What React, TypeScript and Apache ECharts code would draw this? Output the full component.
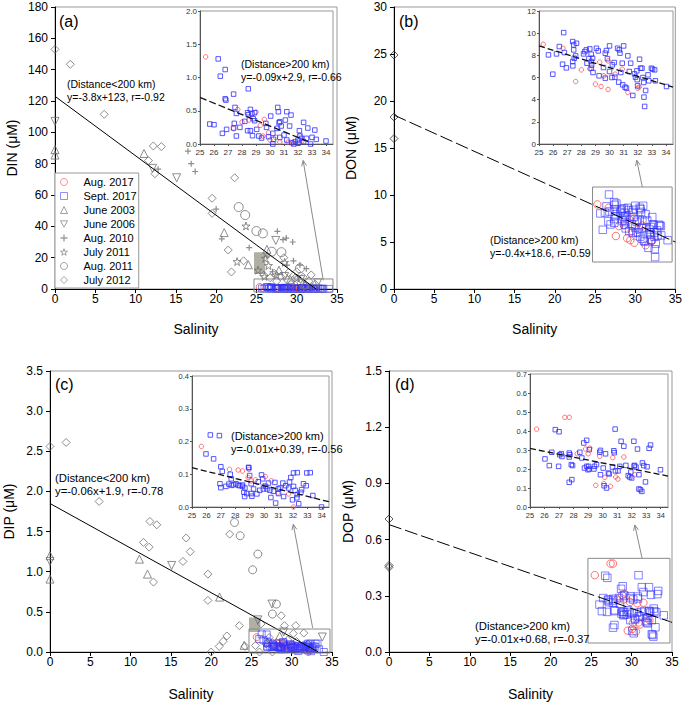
import React, { useEffect, useRef } from "react";
import * as echarts from "echarts";

const FONT = '"Liberation Sans", Arial, Helvetica, sans-serif';

// ---------- legend / series names ----------
const seriesNames = ["Aug. 2017", "Sept. 2017", "June 2003", "June 2006", "Aug. 2010", "July 2011", "Aug. 2011", "July 2012"];

// ---------- axis ticks ----------
const salinityTicks = { min: 0, max: 35, interval: 5 };
const insetSalinityTicks = { min: 25, max: 34.5, interval: 1 };

// ---------- (a) DIN ----------
const dinAug17 = [[25.4,1.31],[27.4,0.23],[27.7,0.52],[28.0,0.33],[28.5,0.36],[29.0,0.48],[29.3,0.28],[29.6,0.37],[29.5,0.12],[29.9,0.17],[30.0,0.06],[30.4,0.1],[30.7,0.03],[31.3,0.03],[31.6,0.02],[32.1,0.13],[32.3,0.05]];
const dinSep17 = [[26.3,1.28],[26.8,1.12],[26.45,1.02],[28.45,0.83],[27.4,0.75],[26.8,0.68],[26.85,0.66],[27.5,0.55],[27.6,0.46],[28.4,0.47],[28.45,0.44],[28.6,0.52],[28.7,0.46],[28.9,0.47],[28.8,0.38],[28.2,0.34],[27.85,0.25],[27.45,0.31],[27.4,0.24],[25.7,0.3],[26.0,0.29],[26.6,0.16],[26.9,0.22],[27.6,0.12],[28.4,0.2],[28.6,0.2],[28.75,0.125],[29.05,0.22],[29.7,0.31],[29.75,0.25],[30.05,0.42],[30.55,0.55],[30.6,0.485],[30.7,0.335],[30.65,0.32],[30.5,0.235],[31.2,0.485],[31.5,0.435],[31.1,0.36],[30.8,0.27],[31.4,0.27],[30.2,0.16],[29.9,0.11],[30.25,0.07],[30.2,0.0],[30.7,0.1],[31.0,0.135],[31.2,0.06],[31.55,0.02],[31.7,0.0],[32.0,0.06],[32.1,0.2],[32.4,0.325],[32.15,0.12],[32.25,0.085],[32.4,0.035],[32.6,0.085],[32.7,0.24],[33.2,0.21],[33.0,0.1],[33.3,0.07],[32.9,0.0],[34.0,0.045],[32.0,0.01],[31.8,0.035],[29.4,0.09],[28.9,0.35],[29.2,0.12]];
const dinJun03 = [[0,89],[0,85.5],[11.05,86.5],[21,36],[24,15.5],[26.3,25.3],[27.8,12],[29.2,6],[31,3]];
const dinJun06 = [[0,107],[12.1,77],[15.1,71],[27.4,31],[28.5,8],[30.5,6],[32.6,4]];
const dinAug10 = [[16.5,88],[16.9,80],[17.4,75],[12.8,76.5],[20,51],[20.7,32],[24.1,26.4],[27.6,36.8],[28.3,31.5],[28.7,32.5],[29.5,30],[28.8,15.3],[29.6,18],[30.4,15.3],[31.2,13],[27,11],[26.3,21]];
const dinJul11 = [[23.7,40.2],[22.6,17.5],[26.1,19.6],[26.5,15],[25.2,12],[28.5,17],[27.5,9],[30,7],[26,8]];
const dinAug11 = [[22.8,52.3],[23.6,47.2],[25,37],[25.8,35.5],[26.9,23.8],[28.1,23.5],[30.4,13.2]];
const dinJul12 = [[0,153],[1.9,143.4],[6.1,111.5],[12.2,91.3],[13.2,90.9],[11.6,82],[12.4,73.6],[22.3,71],[19.5,57.9],[19.5,48.3],[21.5,24.9],[21.9,10.9],[23.4,18],[25.9,8.9],[26.7,7.2],[27.5,5],[28,8],[28.8,6],[29.3,3],[29.8,7],[30.5,4],[31,2],[31.5,5],[32,1],[32.3,3],[31.8,9],[30,11],[28.4,20],[27.2,10],[29,10.5],[30.8,7.5]];
const dinFitNear = [[0,123],[32.4,0]];
const dinFitFar = [[25,0.7],[32.8,0.03]];

// ---------- (b) DON ----------
const donAug17 = [[25.3,9.0],[26.7,8.64],[27.6,5.64],[28.0,6.69],[28.6,6.78],[29.0,5.4],[29.3,7.38],[29.4,5.19],[29.6,6.15],[29.9,7.5],[29.9,4.92],[30.4,6.3],[30.9,6.75],[31.3,4.65],[32.0,5.04],[32.1,5.13]];
const donSep17 = [[25.67,8.04],[25.98,6.3],[26.24,8.13],[26.44,8.79],[26.75,10.05],[26.67,7.2],[26.8,8.25],[26.94,6.87],[27.39,9.24],[27.46,8.94],[27.66,9.09],[27.46,8.49],[27.39,7.44],[27.5,7.74],[27.6,7.95],[27.4,7.05],[28.16,8.13],[28.25,8.34],[28.35,8.49],[28.6,8.58],[28.4,7.29],[28.54,7.71],[28.7,8.1],[28.8,7.74],[28.7,7.44],[28.73,7.11],[28.83,6.45],[28.7,6.84],[29.07,8.64],[29.2,8.4],[29.26,6.15],[29.7,8.19],[29.78,8.43],[29.85,7.7],[30.0,8.85],[29.57,6.9],[29.7,5.94],[30.0,6.54],[30.17,6.0],[30.2,7.14],[30.33,7.35],[30.38,6.03],[30.57,8.64],[30.69,8.49],[30.74,8.2],[30.65,5.58],[30.8,6.45],[30.9,7.29],[31.0,8.85],[30.93,5.34],[31.1,5.13],[31.2,5.04],[31.3,7.95],[31.4,6.54],[31.5,7.29],[31.65,4.38],[31.77,6.33],[31.84,6.03],[31.94,6.6],[31.96,5.8],[31.99,5.25],[32.13,7.65],[32.2,6.84],[32.3,6.84],[32.37,6.0],[32.42,5.55],[32.44,4.23],[32.49,3.39],[32.56,4.83],[32.73,6.24],[32.78,5.7],[32.97,6.84],[33.05,6.75],[33.2,6.69],[33.25,5.7],[34.04,5.19]];
const donJul12 = [[0,24.9],[0,18.3],[0,16.0]];
const donFitMain = [[0,18.5],[35,5.0]];
const donFitInset = [[25,8.85],[34.5,5.13]];

// ---------- (c) DIP ----------
const dipAug17 = [[25.65,0.185],[27.6,0.115],[28.2,0.113],[28.95,0.115],[28.9,0.09],[29.1,0.08],[29.4,0.083],[29.96,0.065],[30.08,0.093],[30.5,0.08],[30.95,0.043],[32.04,0.0],[28.5,0.11],[31.7,0.04]];
const dipSep17 = [[26.27,0.22],[26.9,0.218],[25.97,0.162],[26.5,0.147],[27.0,0.123],[27.1,0.109],[27.65,0.1],[27.72,0.086],[26.94,0.071],[27.56,0.07],[27.35,0.063],[27.0,0.059],[27.74,0.066],[28.05,0.071],[28.3,0.065],[28.5,0.067],[28.67,0.058],[28.6,0.045],[28.65,0.032],[28.92,0.121],[28.94,0.12],[29.0,0.096],[29.1,0.071],[29.27,0.055],[29.5,0.04],[29.6,0.077],[29.82,0.098],[29.9,0.086],[29.95,0.055],[30.2,0.055],[30.4,0.051],[30.47,0.029],[30.75,0.075],[30.8,0.012],[30.98,0.055],[31.0,0.041],[31.35,0.032],[31.5,0.065],[31.76,0.076],[31.85,0.09],[32.04,0.104],[32.3,0.105],[32.04,0.063],[31.97,0.022],[32.27,0.028],[32.4,0.01],[32.3,0.038],[32.55,0.045],[32.73,0.071],[32.92,0.065],[32.96,0.104],[33.2,0.105],[33.38,0.035],[33.98,0.0],[28.2,0.067],[27.88,0.068],[28.5,0.063],[28.8,0.041],[29.1,0.041],[29.15,0.033],[29.7,0.051],[30.1,0.063],[30.3,0.073],[30.65,0.048],[31.1,0.058],[31.3,0.073],[31.7,0.058],[32.15,0.051],[32.6,0.053]];
const dipJun03 = [[0,1.2],[0,0.908],[11.1,1.157],[12.1,0.97],[21.05,0.684],[24.1,0.083],[27,0.12],[28.5,0.2]];
const dipJun06 = [[0,1.128],[15.1,1.078],[27.55,0.597],[25.8,0.4],[29,0.25],[33.8,0.187]];
const dipAug11 = [[22.9,1.613],[23.6,1.448],[25.15,1.024],[25.8,1.22],[28.1,0.597],[27.6,0.473]];
const dipJul12 = [[0,2.56],[2,2.61],[6.1,1.875],[11.6,1.365],[12.3,1.306],[12.4,1.626],[13.25,1.584],[12.84,0.871],[16.9,1.42],[17.4,1.25],[16.5,1.128],[19.6,0.97],[19.6,0.643],[20,0],[21,0.07],[21.5,0.133],[21.95,0.2],[22.3,1.468],[23.5,0.328],[24.2,0.07],[25.5,0.08],[26.2,0.35],[26.8,0.1],[27.2,0.18],[27.6,0.0],[28.1,0.12],[28.7,0.452],[29.1,0.328],[29.5,0.15],[30.2,0.23],[30.5,0.328],[30.6,0.13],[31.5,0.236],[28.5,0.05],[26,0.0],[32,0.1]];
const dipFitNear = [[0,1.85],[33.3,0]];
const dipFitInset = [[25,0.12],[34.5,0.016]];

// ---------- (d) DOP ----------
const dopAug17 = [[25.45,0.41],[27.4,0.472],[27.7,0.472],[28.25,0.28],[28.82,0.305],[29.12,0.31],[29.8,0.267],[29.53,0.114],[30.08,0.123],[30.15,0.156],[30.54,0.109],[30.7,0.26],[30.9,0.158],[31.05,0.147],[31.46,0.263],[32.2,0.17],[29.0,0.28]];
const dopSep17 = [[26.03,0.253],[26.33,0.218],[26.5,0.288],[26.74,0.407],[27.0,0.396],[26.97,0.214],[27.15,0.281],[27.2,0.266],[27.05,0.275],[27.7,0.284],[27.75,0.275],[27.7,0.263],[27.7,0.13],[27.88,0.144],[27.84,0.223],[27.93,0.218],[28.43,0.288],[28.57,0.258],[28.7,0.337],[28.9,0.351],[28.75,0.205],[28.9,0.214],[29.03,0.214],[29.08,0.2],[28.99,0.196],[29.08,0.302],[29.44,0.214],[29.4,0.2],[29.58,0.223],[29.85,0.298],[29.8,0.288],[29.85,0.17],[30.04,0.205],[30.1,0.112],[30.27,0.1],[30.2,0.28],[30.4,0.179],[30.45,0.174],[30.68,0.21],[30.86,0.41],[30.77,0.296],[30.8,0.286],[30.88,0.19],[31.06,0.19],[31.18,0.214],[31.27,0.346],[31.46,0.32],[31.6,0.219],[31.76,0.165],[31.87,0.158],[31.94,0.184],[32.0,0.153],[32.15,0.346],[32.2,0.219],[32.3,0.21],[32.4,0.305],[32.5,0.095],[32.6,0.091],[32.7,0.082],[32.5,0.17],[32.74,0.232],[32.83,0.218],[32.95,0.132],[33.06,0.212],[33.2,0.309],[33.3,0.326],[33.98,0.196],[32.17,0.216]];
const dopJul12 = [[0,0.71],[0,0.462],[0,0.452]];
const dopFitMain = [[0,0.68],[35,0.158]];
const dopFitInset = [[25,0.308],[34.5,0.163]];

// ---------- annotation geometry (data coords of each panel's main grid) ----------
const zoomBoxes = [
  { g: 0, from: [24.7, 6.4], to: [34.5, -1.9] },
  { g: 2, from: [24.7, 10.85], to: [34.6, 2.87] },
  { g: 4, from: [24.7, 0.286], to: [34.75, -0.012] },
  { g: 6, from: [24.6, 0.5], to: [34.75, 0.048] },
];
const arrows = [
  { g: 0, from: [33.3, 5.5], to: [30.8, 82] },
  { g: 2, from: [30.9, 10.85], to: [30.2, 13.7] },
  { g: 4, from: [32.6, 0.3], to: [30.2, 1.59] },
  { g: 6, from: [31.3, 0.5], to: [30.4, 0.678] },
];
const shades = [
  { g: 0, from: [24.7, 23.4], to: [26.1, 9.6] },
  { g: 4, from: [24.7, 0.43], to: [26.1, 0.25] },
];

const STAR = "path://M50,0 L61,35 L98,35 L68,57 L79,91 L50,70 L21,91 L32,57 L2,35 L39,35 Z";
const TRI_DOWN = "path://M0,0 L10,0 L5,9 Z";
const PLUS = "path://M4,0 L6,0 L6,4 L10,4 L10,6 L6,6 L6,10 L4,10 L4,6 L0,6 L0,4 L4,4 Z";

const GRAY = "#707070";
const RED = "#ff5050";
const BLUE = "#3030ff";
const BLUE_MAIN = "rgba(50,50,255,0.75)";

const grids = [
  { left: 55, top: 7, width: 282, height: 282 },
  { left: 200, top: 11, width: 133, height: 133 },
  { left: 394, top: 7, width: 283, height: 282 },
  { left: 539, top: 11, width: 134, height: 133 },
  { left: 50, top: 371, width: 282, height: 281 },
  { left: 192, top: 376, width: 137, height: 131 },
  { left: 389, top: 371, width: 283, height: 281 },
  { left: 530, top: 374, width: 138, height: 133 },
];

const hollow = (c: string, w = 1) => ({ color: "rgba(0,0,0,0)", borderColor: c, borderWidth: w });

function sc(name: string, data: number[][], g: number, symbol: string, size: number, itemStyle: any) {
  return {
    type: "scatter", name, data, xAxisIndex: g, yAxisIndex: g, symbol, symbolSize: size,
    itemStyle, silent: true, clip: false, z: 6, emphasis: { disabled: true },
  };
}
function fit(data: number[][], g: number, dash: any, width = 1, color = "#000") {
  return {
    type: "line", data, xAxisIndex: g, yAxisIndex: g, symbol: "none", showSymbol: false,
    lineStyle: { color, width, type: dash }, silent: true, z: 7, emphasis: { disabled: true },
  };
}
function mainX(g: number, nameGap: number) {
  return {
    type: "value", gridIndex: g, ...salinityTicks,
    name: "Salinity", nameLocation: "middle", nameGap,
    nameTextStyle: { fontSize: 14, color: "#000", fontFamily: FONT },
    axisLine: { show: true, onZero: false, lineStyle: { color: "#000", width: 1 } },
    axisTick: { show: true, length: 4, lineStyle: { color: "#000" } },
    axisLabel: { fontSize: 12, color: "#000", margin: 4, fontFamily: FONT },
    splitLine: { show: false },
  };
}
function mainY(g: number, name: string, max: number, interval: number, dec: number, nameGap: number) {
  return {
    type: "value", gridIndex: g, min: 0, max, interval,
    name, nameLocation: "middle", nameGap,
    nameTextStyle: { fontSize: 14, color: "#000", fontFamily: FONT },
    axisLine: { show: true, onZero: false, lineStyle: { color: "#000", width: 1 } },
    axisTick: { show: true, length: 4, lineStyle: { color: "#000" } },
    axisLabel: { fontSize: 12, color: "#000", margin: 7, fontFamily: FONT, formatter: (v: number) => (dec ? v.toFixed(dec) : String(Math.round(v))) },
    splitLine: { show: false },
  };
}
function insetX(g: number, fs: number) {
  return {
    type: "value", gridIndex: g, ...insetSalinityTicks,
    axisLine: { show: true, onZero: false, lineStyle: { color: "#555", width: 1 } },
    axisTick: { show: true, length: 2, lineStyle: { color: "#555" } },
    axisLabel: { fontSize: fs, color: "#333", margin: 4, fontFamily: FONT, showMaxLabel: false },
    splitLine: { show: false },
  };
}
function insetY(g: number, max: number, interval: number, dec: number, fs: number) {
  return {
    type: "value", gridIndex: g, min: 0, max, interval,
    axisLine: { show: true, onZero: false, lineStyle: { color: "#555", width: 1 } },
    axisTick: { show: true, length: 2, lineStyle: { color: "#555" } },
    axisLabel: { fontSize: fs, color: "#333", margin: 3, fontFamily: FONT, formatter: (v: number) => (dec ? v.toFixed(dec) : String(Math.round(v))) },
    splitLine: { show: false },
  };
}

export default function App() {
  const ref = useRef<HTMLDivElement>(null);
  useEffect(() => {
    document.body.style.margin = "0";
    if (!ref.current) return;
    const chart = echarts.init(ref.current, undefined, { renderer: "svg" });
    const [nA17, nS17, nJ03, nJ06, nA10, nJ11, nA11, nJ12] = seriesNames;
    const LONG = [13, 4];
    const SHORT = [6, 3];

    const series: any[] = [
      // (a) main
      sc(nA17, dinAug17, 0, "circle", 7, hollow(RED)),
      sc(nS17, dinSep17, 0, "rect", 7, hollow(BLUE_MAIN)),
      sc(nJ03, dinJun03, 0, "triangle", 8, hollow(GRAY)),
      sc(nJ06, dinJun06, 0, TRI_DOWN, 8, hollow(GRAY)),
      sc(nA10, dinAug10, 0, PLUS, 6, { color: GRAY }),
      sc(nJ11, dinJul11, 0, STAR, 8, hollow(GRAY)),
      sc(nA11, dinAug11, 0, "circle", 9, hollow(GRAY)),
      sc(nJ12, dinJul12, 0, "diamond", 8, hollow(GRAY)),
      fit(dinFitNear, 0, "solid"),
      // (a) inset
      sc(nA17, dinAug17, 1, "circle", 4.5, hollow(RED)),
      sc(nS17, dinSep17, 1, "rect", 4.5, hollow(BLUE)),
      fit(dinFitFar, 1, [7, 3], 1.3, "#111"),
      // (b) main
      sc(nJ12, donJul12, 2, "diamond", 8, hollow("#333")),
      sc(nA17, donAug17, 2, "circle", 7.5, hollow(RED)),
      sc(nS17, donSep17, 2, "rect", 7.5, hollow(BLUE_MAIN)),
      fit(donFitMain, 2, LONG),
      // (b) inset
      sc(nA17, donAug17, 3, "circle", 4.5, hollow(RED)),
      sc(nS17, donSep17, 3, "rect", 4.5, hollow(BLUE)),
      fit(donFitInset, 3, SHORT, 1.3, "#111"),
      // (c) main
      sc(nJ03, dipJun03, 4, "triangle", 8, hollow(GRAY)),
      sc(nJ06, dipJun06, 4, TRI_DOWN, 8, hollow(GRAY)),
      sc(nA11, dipAug11, 4, "circle", 8, hollow(GRAY)),
      sc(nJ12, dipJul12, 4, "diamond", 8, hollow(GRAY)),
      sc(nA17, dipAug17, 4, "circle", 7, hollow(RED)),
      sc(nS17, dipSep17, 4, "rect", 7, hollow(BLUE_MAIN)),
      fit(dipFitNear, 4, "solid"),
      // (c) inset
      sc(nA17, dipAug17, 5, "circle", 4.5, hollow(RED)),
      sc(nS17, dipSep17, 5, "rect", 4.5, hollow(BLUE)),
      fit(dipFitInset, 5, SHORT, 1.3, "#111"),
      // (d) main
      sc(nJ12, dopJul12, 6, "diamond", 8, hollow("#333")),
      sc(nA17, dopAug17, 6, "circle", 7.5, hollow(RED)),
      sc(nS17, dopSep17, 6, "rect", 7.5, hollow(BLUE_MAIN)),
      fit(dopFitMain, 6, LONG),
      // (d) inset
      sc(nA17, dopAug17, 7, "circle", 4.5, hollow(RED)),
      sc(nS17, dopSep17, 7, "rect", 4.5, hollow(BLUE)),
      fit(dopFitInset, 7, SHORT, 1.3, "#111"),
    ];

    const legendIcons = ["circle", "rect", "triangle", TRI_DOWN, PLUS, STAR, "circle", "diamond"];
    const legendColors = ["#ff7070", "#7070ff", "#888", "#888", "#888", "#888", "#888", "#888"];
    const legendData = seriesNames.map((n, i) => ({
      name: n,
      icon: legendIcons[i],
      itemStyle: i === 4
        ? { color: "#888", borderWidth: 0 }
        : { color: "rgba(0,0,0,0)", borderColor: legendColors[i], borderWidth: 1 },
    }));

    const option: any = {
      animation: false,
      backgroundColor: "#fff",
      textStyle: { fontFamily: FONT },
      grid: grids.map((g, i) => ({
        ...g, containLabel: false, show: true,
        borderColor: "#999", borderWidth: 1,
        backgroundColor: i % 2 === 1 ? "#fff" : "transparent",
      })),
      xAxis: [
        mainX(0, 33), insetX(1, 8),
        mainX(2, 33), insetX(3, 8),
        mainX(4, 35), insetX(5, 7.5),
        mainX(6, 35), insetX(7, 7.5),
      ],
      yAxis: [
        mainY(0, "DIN (\u03bcM)", 180, 20, 0, 36), insetY(1, 2, 0.5, 1, 8),
        mainY(2, "DON (\u03bcM)", 30, 5, 0, 36), insetY(3, 12, 2, 0, 8),
        mainY(4, "DIP (\u03bcM)", 3.5, 0.5, 1, 34), insetY(5, 0.4, 0.1, 1, 7.5),
        mainY(6, "DOP (\u03bcM)", 1.5, 0.3, 1, 34), insetY(7, 0.7, 0.1, 1, 7.5),
      ],
      legend: {
        data: legendData, orient: "vertical", left: 55, top: 173,
        selectedMode: false,
        itemWidth: 7, itemHeight: 7, itemGap: 0,
        padding: [2, 2, 1, 5],
        borderColor: "#999", borderWidth: 1, backgroundColor: "#fff",
        textStyle: { fontSize: 11, lineHeight: 14, color: "#000", fontFamily: FONT, padding: [0, 0, 0, 11] },
        z: 8,
      },
      series,
    };
    chart.setOption(option);

    const P = (g: number, p: number[]) => chart.convertToPixel({ gridIndex: g } as any, p) as unknown as number[];
    const gfx: any[] = [];
    shades.forEach((s) => {
      const a = P(s.g, s.from), b = P(s.g, s.to);
      gfx.push({ type: "rect", silent: true, z: 1,
        shape: { x: Math.min(a[0], b[0]), y: Math.min(a[1], b[1]), width: Math.abs(b[0] - a[0]), height: Math.abs(b[1] - a[1]) },
        style: { fill: "rgba(110,110,90,0.55)" } });
    });
    zoomBoxes.forEach((s) => {
      const a = P(s.g, s.from), b = P(s.g, s.to);
      gfx.push({ type: "rect", silent: true, z: 10,
        shape: { x: Math.min(a[0], b[0]), y: Math.min(a[1], b[1]), width: Math.abs(b[0] - a[0]), height: Math.abs(b[1] - a[1]) },
        style: { fill: "none", stroke: "#8a8a8a", lineWidth: 1 } });
    });
    arrows.forEach((s) => {
      const t = P(s.g, s.from), h = P(s.g, s.to);
      const dx = h[0] - t[0], dy = h[1] - t[1];
      const L = Math.hypot(dx, dy);
      const bx = -dx / L, by = -dy / L;
      const len = 6, ang = 0.42;
      const rot = (s1: number) => [h[0] + len * (bx * Math.cos(s1) - by * Math.sin(s1)), h[1] + len * (bx * Math.sin(s1) + by * Math.cos(s1))];
      gfx.push({ type: "line", silent: true, z: 10, shape: { x1: t[0], y1: t[1], x2: h[0], y2: h[1] }, style: { stroke: "#8a8a8a", lineWidth: 1 } });
      gfx.push({ type: "polyline", silent: true, z: 10, shape: { points: [rot(ang), h, rot(-ang)] }, style: { stroke: "#8a8a8a", lineWidth: 1, fill: "none" } });
    });
    const txt = (x: number, y: number, text: string, size: number, lh: number) => ({
      type: "text", x, y, silent: true, z: 12,
      style: { text, fill: "#000", font: `${size}px ${FONT}`, lineHeight: lh, verticalAlign: "top", align: "left" },
    });
    gfx.push(txt(59, 12, "(a)", 16, 18));
    gfx.push(txt(399, 12, "(b)", 16, 18));
    gfx.push(txt(55, 375, "(c)", 16, 18));
    gfx.push(txt(395, 375, "(d)", 16, 18));
    gfx.push(txt(67, 77, "(Distance<200 km)\ny=-3.8x+123, r=-0.92", 10.5, 13.5));
    gfx.push(txt(241, 57, "(Distance>200 km)\ny=-0.09x+2.9, r=-0.66", 10.5, 13));
    gfx.push(txt(490, 234, "(Distance>200 km)\ny=-0.4x+18.6, r=-0.59", 10.5, 12.5));
    gfx.push(txt(55, 472, "(Distance<200 km)\ny=-0.06x+1.9, r=-0.78", 11.3, 12.5));
    gfx.push(txt(231, 430, "(Distance>200 km)\ny=-0.01x+0.39, r=-0.56", 11, 12.5));
    gfx.push(txt(475, 620, "(Distance>200 km)\ny=-0.01x+0.68, r=-0.37", 11.3, 12.5));
    chart.setOption({ graphic: gfx });

    return () => chart.dispose();
  }, []);
  return <div ref={ref} style={{ position: "fixed", left: 0, top: 0, width: 685, height: 704, background: "#fff" }} />;
}
